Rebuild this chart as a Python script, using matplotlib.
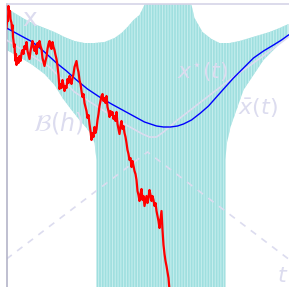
import numpy as np
import matplotlib
matplotlib.use('Agg')
import matplotlib.pyplot as plt

plt.rcParams['hatch.linewidth'] = 0.8

# Brownian sample path (red)
path_t = [0, 1, 1.5, 2, 3, 3.5, 4, 5, 5.5, 6, 6.5, 7, 7.5, 8, 8.5, 9, 9.5, 10,
          11, 12, 13, 14, 15, 16, 17, 18, 19, 20, 21, 22, 23, 24, 25, 26, 27,
          28, 29, 30, 31, 32, 33, 34, 35, 36, 37, 38, 39, 40, 41, 42, 43, 44,
          45, 46, 47, 48, 49, 50, 51, 52, 53, 54, 55, 56, 57, 58, 59, 60, 61,
          62, 63, 64, 65, 66, 67, 68, 69, 70, 71, 72, 73, 74, 75, 76, 77, 78,
          79, 80, 81, 82, 83, 84, 85, 86, 87, 88, 89, 90, 91, 92, 93, 94, 95,
          96, 97, 98, 99, 100, 101, 102, 103, 104, 105, 106, 107, 108, 109,
          110, 111, 112, 113, 114, 115, 116, 117, 118, 119, 120, 121, 122, 123,
          124, 125, 126, 127, 128, 129, 130, 131, 132, 133, 134, 135, 136, 137,
          138, 139, 140, 141, 142, 143, 144, 145, 146, 147, 148, 149, 150, 151,
          152, 153, 154, 155, 156, 157, 158, 159, 160, 161, 162, 163]
path_x = [259, 270, 266, 281, 272, 276, 268, 264, 258, 262, 250, 246, 240, 243,
          232, 226, 233, 222, 229, 224, 231, 226, 234, 237, 233, 241, 238, 245,
          236, 232, 228, 236, 241, 246, 240, 236, 241, 233, 244, 240, 246, 241,
          238, 229, 225, 221, 226, 230, 238, 243, 246, 240, 238, 245, 240, 237,
          232, 228, 221, 212, 198, 203, 199, 207, 202, 196, 201, 199, 208, 204,
          211, 206, 203, 209, 213, 220, 223, 226, 219, 215, 207, 203, 196, 190,
          193, 184, 180, 176, 169, 172, 163, 156, 147, 154, 150, 160, 154, 158,
          167, 173, 181, 186, 191, 193, 186, 189, 184, 191, 180, 176, 170, 176,
          172, 175, 168, 171, 166, 175, 163, 158, 153, 161, 166, 158, 161, 154,
          150, 144, 137, 133, 127, 129, 120, 126, 121, 116, 113, 107, 96, 92,
          86, 93, 98, 87, 91, 81, 86, 91, 84, 89, 97, 92, 86, 91, 87, 81, 84,
          76, 71, 66, 59, 68, 76, 57, 42, 33, 26, 21, 15, 9, -3]

# mean path x_bar(t) (blue)
mean_t = [0, 13, 26, 38, 50, 60, 70, 81, 93, 105, 116, 127, 138, 150, 157, 164,
          171, 177, 185, 194, 202, 210, 218, 227, 237, 247, 257, 267, 275, 282]
mean_x = [259, 252, 245, 235, 224, 216, 207, 198, 190, 183, 177, 171, 165, 161,
          160, 160, 161, 163, 167, 174, 181, 190, 199, 209, 219, 229, 236, 242,
          247, 252]

# optimal path x*(t)
opt_t = [0, 43, 68, 93, 118, 136, 143, 150, 157, 171, 193, 223, 258, 282]
opt_x = [247, 220, 195, 179, 163, 153, 150, 150, 155, 167, 184, 207, 232, 250]

# dashed cone
cone_t = [0, 141, 282]
cone_x = [28, 135, 28]

# region B(h): upper and lower boundary
up_t = [0, 8, 18, 28, 38, 48, 58, 68, 78, 88, 98, 108, 115, 121, 127, 133, 137,
        141, 180, 185, 188, 196, 205, 213, 223, 233, 243, 253, 263, 273, 282]
up_x = [279, 274, 268, 263, 259, 255, 250, 246, 244, 244, 245, 249, 254, 260,
        267, 272, 280, 290, 290, 282, 269, 255, 248, 244, 244, 246, 249, 252,
        255, 259, 263]
lo_t = [0, 13, 26, 38, 48, 56, 65, 73, 80, 85, 88, 90, 90, 219, 219, 220, 224,
        237, 257, 282]
lo_x = [237, 230, 222, 213, 202, 189, 177, 167, 159, 152, 144, 127, -10, -10,
        127, 142, 160, 197, 227, 252]

lav = '#dcdcef'

fig = plt.figure(figsize=(2.89, 2.87), dpi=100)
ax = fig.add_axes([6.5 / 289, 0, 282.5 / 289, 283 / 287])

ax.fill(np.r_[up_t, lo_t[::-1]], np.r_[up_x, lo_x[::-1]],
        facecolor='#9fdfdf', edgecolor='#c4eded', hatch='||||||',
        linewidth=0, zorder=1)

ax.plot(cone_t, cone_x, color=lav, lw=1.2, dashes=(4, 4), zorder=2)
ax.plot(opt_t, opt_x, color=lav, lw=1.2, zorder=3)
ax.plot(mean_t, mean_x, color='blue', lw=1.0, zorder=4)
ax.plot(path_t, path_x, color='red', lw=1.6, zorder=5)

ax.text(52, 164, r'$\mathcal{B}(h)$', color=lav, fontsize=17,
        ha='center', va='center', zorder=6)
ax.text(196, 215, r'$x^{\star}(t)$', color=lav, fontsize=16,
        ha='center', va='center', zorder=6)
ax.text(251, 179, r'$\bar{x}(t)$', color=lav, fontsize=16,
        ha='center', va='center', zorder=6)
ax.text(23, 268, 'x', color=lav, fontsize=18, ha='center', va='center', zorder=6)
ax.text(276, 11, r'$t$', color=lav, fontsize=16, ha='center', va='center',
        zorder=6)

ax.set_xlim(0, 282.5)
ax.set_ylim(0, 283)
ax.set_xticks([])
ax.set_yticks([])
for s in ['right', 'bottom']:
    ax.spines[s].set_visible(False)
ax.spines['left'].set_color('#b4b4c8')
ax.spines['top'].set_color('#d6d4e8')
ax.spines['left'].set_linewidth(1.2)
ax.spines['top'].set_linewidth(1.2)

fig.savefig('out.png', dpi=100)
